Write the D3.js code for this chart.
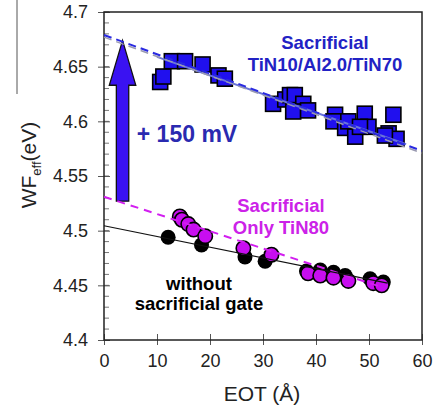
<!DOCTYPE html>
<html>
<head>
<meta charset="utf-8">
<script src="https://cdn.jsdelivr.net/npm/d3@7"></script>
<style>
body { margin: 0; background: #fff; }
text { font-family: Arial, "Liberation Sans", sans-serif; }
</style>
</head>
<body>
<div id="chart"></div>
<script>
var fw = 438;
var fh = 409;
var mar = { top: 12, right: 16, bottom: 69, left: 104 };
var w = fw - mar.left - mar.right;
var h = fh - mar.top - mar.bottom;

// data
var sqEot = [10.6, 11.2, 12.8, 15.3, 18.6, 21.6, 22.8, 31.9, 34.2, 35.1, 36.0, 37.6, 35.7, 38.5,
	43.6, 43.3, 45.5, 46.1, 47.4, 49.2, 49.9, 48.3, 54.6, 53.7, 55.2, 53.0];
var sqWf = [4.636, 4.641, 4.655, 4.655, 4.652, 4.642, 4.639, 4.616, 4.620, 4.624, 4.624, 4.616, 4.609, 4.610,
	4.606, 4.600, 4.594, 4.600, 4.586, 4.607, 4.595, 4.595, 4.606, 4.589, 4.584, 4.587];

var blkEot = [12.1, 14.5, 18.4, 26.6, 30.4, 38.2, 40.8, 43.3, 45.5, 50.2, 52.7];
var blkWf = [4.494, 4.512, 4.487, 4.476, 4.472, 4.463, 4.464, 4.462, 4.459, 4.456, 4.453];

var magEot = [14.3, 14.7, 15.9, 16.9, 19.1, 26.3, 31.6, 38.5, 40.8, 43.3, 46.1, 50.8, 52.4];
var magWf = [4.513, 4.510, 4.506, 4.501, 4.495, 4.484, 4.478, 4.461, 4.459, 4.457, 4.454, 4.452, 4.450];

var xTicks = [0, 10, 20, 30, 40, 50, 60];
var yTicks = [4.4, 4.45, 4.5, 4.55, 4.6, 4.65, 4.7];

// fit lines [x0, y0, x1, y1]
var fitBlueDash = [0, 4.679, 60, 4.573];
var fitGreyDash = [0, 4.677, 60, 4.571];
var fitBlueSolid = [10, 4.659, 57, 4.579];
var fitMag = [0, 4.531, 52, 4.449];
var fitBlk = [0, 4.5045, 53.5, 4.452];

// arrow: x, bottom, head base, tip, shaft half width, head half width (in EOT)
var arrowX = 3.5, arrowBottom = 4.527, arrowHeadBase = 4.633, arrowTip = 4.674;
var arrowShaft = 1.17, arrowHead = 2.5;

var svg = d3.select("#chart")
	.append("svg")
	.attr("width", fw)
	.attr("height", fh);

var g = svg.append("g")
	.attr("transform", "translate(" + mar.left + "," + mar.top + ")");

var x = d3.scaleLinear().domain([0, 60]).range([0, w]);
var y = d3.scaleLinear().domain([4.4, 4.7]).range([h, 0]);

// stray line at far left
svg.append("line")
	.attr("x1", 17).attr("x2", 17).attr("y1", 0).attr("y2", 94)
	.attr("stroke", "#555").attr("stroke-width", 1);

// minor y ticks (inside)
var minor = d3.range(4.41, 4.7, 0.01);
g.selectAll(".ymin")
	.data(minor)
	.enter().append("line")
	.attr("x1", 0).attr("x2", 5)
	.attr("y1", function(d) { return y(d); })
	.attr("y2", function(d) { return y(d); })
	.attr("stroke", "#777").attr("stroke-width", 1);

var yA = d3.axisLeft(y).tickValues(yTicks).tickSize(6).tickPadding(10)
	.tickFormat(function(d) { return d3.format("")(+d.toFixed(2)); });
var yAx = g.append("g").call(yA);
yAx.selectAll("text").style("font-size", "18px").attr("fill", "#222");
yAx.selectAll("line").attr("x2", -6).attr("x1", 6).attr("stroke", "#555");
yAx.select(".domain").remove();

var xA = d3.axisBottom(x).tickValues(xTicks).tickSize(5).tickPadding(9);
var xAx = g.append("g").attr("transform", "translate(0," + h + ")").call(xA);
xAx.selectAll("text").style("font-size", "18px").attr("fill", "#222");
xAx.selectAll("line").attr("y1", -6).attr("y2", 5).attr("stroke", "#555");
xAx.select(".domain").remove();

// frame
g.append("rect")
	.attr("x", 0).attr("y", 0).attr("width", w).attr("height", h)
	.attr("fill", "none").attr("stroke", "#222").attr("stroke-width", 1.5);

// arrow
var arrowPts = [
	[arrowX - arrowShaft, arrowBottom], [arrowX - arrowShaft, arrowHeadBase],
	[arrowX - arrowHead, arrowHeadBase], [arrowX, arrowTip],
	[arrowX + arrowHead, arrowHeadBase], [arrowX + arrowShaft, arrowHeadBase],
	[arrowX + arrowShaft, arrowBottom]
];
g.append("polygon")
	.attr("points", arrowPts.map(function(p) { return x(p[0]) + "," + y(p[1]); }).join(" "))
	.attr("fill", "#3a12f2").attr("stroke", "#111").attr("stroke-width", 1.3);

// markers
var sqSize = 15;
g.selectAll(".sq")
	.data(sqEot.map(function(d, i) { return [d, sqWf[i]]; }))
	.enter().append("rect")
	.attr("x", function(d) { return x(d[0]) - sqSize / 2; })
	.attr("y", function(d) { return y(d[1]) - sqSize / 2; })
	.attr("width", sqSize).attr("height", sqSize)
	.attr("fill", "#2010ee").attr("stroke", "#000").attr("stroke-width", 1.6);

g.selectAll(".blk")
	.data(blkEot.map(function(d, i) { return [d, blkWf[i]]; }))
	.enter().append("circle")
	.attr("cx", function(d) { return x(d[0]); })
	.attr("cy", function(d) { return y(d[1]); })
	.attr("r", 7.5)
	.attr("fill", "#000");

g.selectAll(".mag")
	.data(magEot.map(function(d, i) { return [d, magWf[i]]; }))
	.enter().append("circle")
	.attr("cx", function(d) { return x(d[0]); })
	.attr("cy", function(d) { return y(d[1]); })
	.attr("r", 7.2)
	.attr("fill", "#c80ef0").attr("stroke", "#000").attr("stroke-width", 1.6);

// fit lines
function fit(f, col, wd, dash) {
	g.append("line")
		.attr("x1", x(f[0])).attr("y1", y(f[1]))
		.attr("x2", x(f[2])).attr("y2", y(f[3]))
		.attr("stroke", col).attr("stroke-width", wd)
		.attr("stroke-dasharray", dash);
}
fit(fitBlueSolid, "#6a74d8", 2, null);
fit(fitGreyDash, "#9a9ab0", 1.5, "8,5");
fit(fitBlueDash, "#2a2ae0", 2, "8,5");
fit(fitMag, "#d21ef0", 2, "8,6");
fit(fitBlk, "#111", 1.2, null);

// annotations
function label(txt, cx, cy, col, size) {
	g.append("text")
		.attr("x", cx - mar.left).attr("y", cy - mar.top)
		.attr("text-anchor", "middle")
		.style("font-size", size + "px").style("font-weight", "bold")
		.attr("fill", col)
		.text(txt);
}
label("Sacrificial", 325, 49, "#2222c4", 18.5);
label("TiN10/Al2.0/TiN70", 325, 71, "#2222c4", 18.5);
label("+ 150 mV", 187, 142, "#2a2ab0", 23);
label("Sacrificial", 281, 212, "#cc22e8", 18.5);
label("Only TiN80", 281, 234, "#cc22e8", 18.5);
label("without", 199, 290, "#000", 18.5);
label("sacrificial gate", 199, 310, "#000", 18.5);

// axis titles
svg.append("text")
	.attr("x", 262).attr("y", 401)
	.attr("text-anchor", "middle")
	.style("font-size", "21px").attr("fill", "#222")
	.text("EOT (Å)");

var yl = svg.append("text")
	.attr("transform", "translate(36,165) rotate(-90)")
	.attr("text-anchor", "middle")
	.style("font-size", "21px").attr("fill", "#222");
yl.append("tspan").text("WF");
yl.append("tspan").attr("dy", 5).style("font-size", "13px").text("eff");
yl.append("tspan").attr("dy", -5).text("(eV)");
</script>
</body>
</html>
